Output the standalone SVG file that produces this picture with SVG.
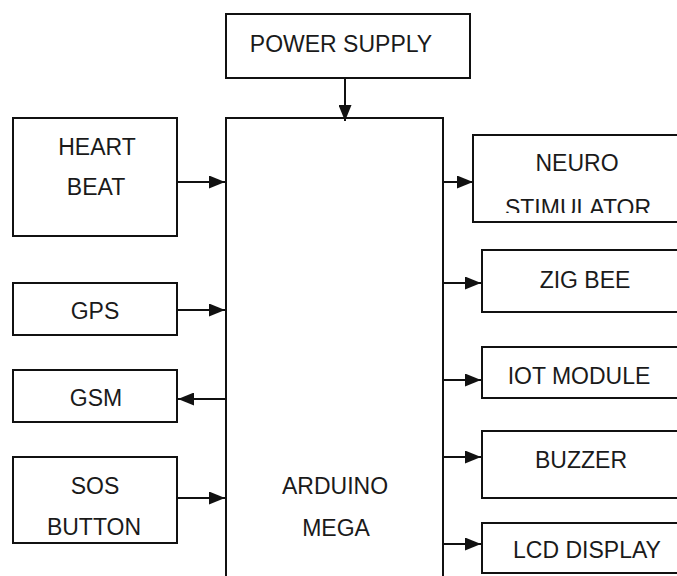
<svg xmlns="http://www.w3.org/2000/svg" width="677" height="576" viewBox="0 0 677 576">
<style>
.box{fill:#fff;stroke:#111;stroke-width:2}
.t{font-family:"Liberation Sans",Arial,sans-serif;font-size:23px;fill:#1a1a1a;text-anchor:middle}
.c{stroke:#111;stroke-width:2;fill:none}
</style>
<defs>
<marker id="ah" markerUnits="userSpaceOnUse" markerWidth="16" markerHeight="13" refX="16" refY="6.5" orient="auto">
<path d="M0,0 L16,6.5 L0,13 Z" fill="#111"/>
</marker>
<clipPath id="clipStim"><rect x="470" y="130" width="210" height="83"/></clipPath>
</defs>
<rect width="677" height="576" fill="#fff"/>

<g id="power-supply">
<rect class="box" x="226" y="14" width="244" height="64"/>
<text class="t" x="341" y="52">POWER SUPPLY</text>
</g>

<g id="arduino-mega">
<path class="box" d="M226,590 L226,118 L443,118 L443,590"/>
<text class="t" x="335" y="494">ARDUINO</text>
<text class="t" x="336" y="536">MEGA</text>
</g>

<g id="heart-beat">
<rect class="box" x="13" y="118" width="164" height="118"/>
<text class="t" x="97" y="155">HEART</text>
<text class="t" x="96" y="195">BEAT</text>
</g>

<g id="gps">
<rect class="box" x="13" y="283" width="164" height="52"/>
<text class="t" x="95" y="319">GPS</text>
</g>

<g id="gsm">
<rect class="box" x="13" y="370" width="164" height="52"/>
<text class="t" x="96" y="406">GSM</text>
</g>

<g id="sos-button">
<rect class="box" x="13" y="457" width="164" height="86"/>
<text class="t" x="95" y="494">SOS</text>
<text class="t" x="94" y="535">BUTTON</text>
</g>

<g id="neuro-stimulator">
<rect class="box" x="473" y="135" width="210" height="87"/>
<text class="t" x="577" y="171">NEURO</text>
<text class="t" x="578" y="216" clip-path="url(#clipStim)">STIMULATOR</text>
</g>

<g id="zig-bee">
<rect class="box" x="482" y="250" width="200" height="62"/>
<text class="t" x="585" y="288">ZIG BEE</text>
</g>

<g id="iot-module">
<rect class="box" x="482" y="347" width="200" height="51"/>
<text class="t" x="579" y="384">IOT MODULE</text>
</g>

<g id="buzzer">
<rect class="box" x="482" y="431" width="200" height="67"/>
<text class="t" x="581" y="468">BUZZER</text>
</g>

<g id="lcd-display">
<rect class="box" x="482" y="523" width="200" height="50"/>
<text class="t" x="587" y="558">LCD DISPLAY</text>
</g>

<g id="connectors">
<line class="c" x1="345" y1="78" x2="345" y2="121" marker-end="url(#ah)"/>
<line class="c" x1="177" y1="182" x2="225" y2="182" marker-end="url(#ah)"/>
<line class="c" x1="177" y1="310" x2="225" y2="310" marker-end="url(#ah)"/>
<line class="c" x1="226" y1="399" x2="178" y2="399" marker-end="url(#ah)"/>
<line class="c" x1="177" y1="498" x2="225" y2="498" marker-end="url(#ah)"/>
<line class="c" x1="443" y1="182" x2="473" y2="182" marker-end="url(#ah)"/>
<line class="c" x1="443" y1="283" x2="481" y2="283" marker-end="url(#ah)"/>
<line class="c" x1="443" y1="380" x2="481" y2="380" marker-end="url(#ah)"/>
<line class="c" x1="443" y1="457" x2="481" y2="457" marker-end="url(#ah)"/>
<line class="c" x1="443" y1="544" x2="481" y2="544" marker-end="url(#ah)"/>
</g>
</svg>
